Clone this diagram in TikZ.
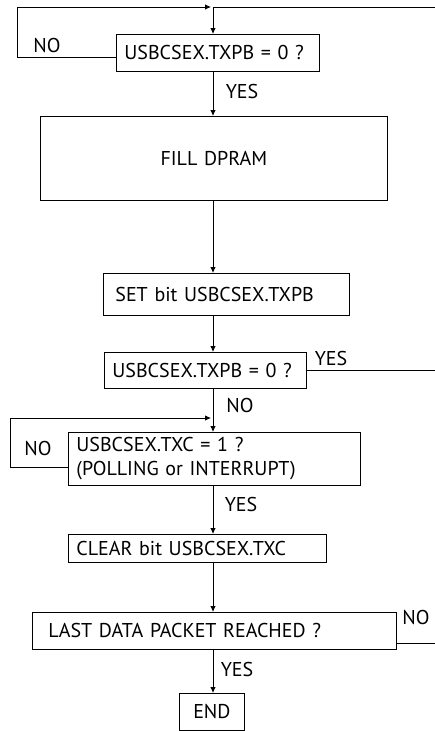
\documentclass[tikz,border=0pt]{standalone}
\usepackage{fontspec}
\setmainfont{PT Sans}
\usetikzlibrary{arrows.meta,positioning}

\begin{document}
\begin{tikzpicture}[
  x=1pt, y=-1pt,
  font=\fontsize{20}{24}\selectfont,
  box/.style={draw, line width=0.8pt, anchor=north west, inner xsep=8pt, inner ysep=0pt, align=left},
  arrow/.style={-{Latex[length=6pt,width=5.5pt]}, line width=0.8pt},
  line/.style={line width=0.8pt},
  lbl/.style={inner sep=0pt}
]
\useasboundingbox (0,0) rectangle (435,731);
\coordinate (axis) at (213,0);
\coordinate (top) at (213,7);
\coordinate (topleft) at (17,7);
\coordinate (topright) at (435,7);
\coordinate (edge) at (435,0);
\coordinate (join) at (213,418);
\coordinate (loopleft) at (10,418);

\node[box, minimum width=203pt, minimum height=37pt, text width=187pt] (ask1) at (116,34) {USBCSEX.TXPB = 0 ?};
\node[box, minimum width=347pt, minimum height=84pt, text width=331pt, align=center] (fill) at (40,116) {FILL DPRAM\hspace*{18pt}};
\node[box, minimum width=238pt, minimum height=42pt, text width=222pt, inner xsep=12pt] (set) at (103,273) {SET bit USBCSEX.TXPB};
\node[box, minimum width=202pt, minimum height=36pt, text width=186pt] (ask2) at (104,352) {USBCSEX.TXPB = 0 ?};
\node[box, minimum width=292pt, minimum height=53pt, text width=276pt] (ask3) at (68,432) {USBCSEX.TXC = 1 ?\\(POLLING or INTERRUPT)};
\node[box, minimum width=258pt, minimum height=28pt, text width=242pt] (clear) at (68,534) {CLEAR bit USBCSEX.TXC};
\node[box, minimum width=364pt, minimum height=37pt, text width=332pt, inner xsep=16pt] (last) at (32,612) {LAST DATA PACKET REACHED ?};
\node[box, minimum width=65pt, minimum height=37pt, text width=49pt, align=center] (end) at (179,693) {END};

% top loop
\draw[line] (topright) -- (top);
\draw[arrow] ([yshift=-4pt]ask1.west) -| (topleft) -- ([xshift=-2pt]top);
\draw[arrow] (top) -- (ask1.north -| axis);

\draw[arrow] (ask1.south -| axis) -- (fill.north -| axis);
\draw[arrow] (fill.south -| axis) -- (set.north -| axis);
\draw[arrow] (set.south -| axis) -- (ask2.north -| axis);
\draw[line] (ask2.east) -- (ask2.east -| edge);
\draw[arrow] (ask2.south -| axis) -- (ask3.north -| axis);

% polling loop
\draw[arrow] ([yshift=-8pt]ask3.west) -| (loopleft) -- ([xshift=-2pt]join);

\draw[arrow] (ask3.south -| axis) -- (clear.north -| axis);
\draw[arrow] (clear.south -| axis) -- (last.north -| axis);
\draw[line] ([yshift=-12pt]last.east) -- ([yshift=-12pt]last.east -| edge);
\draw[arrow] (last.south -| axis) -- (end.north -| axis);

\node[lbl] (no1) at (47,45) {NO};
\node[lbl] (yes1) at (242,91) {YES};
\node[lbl] (yes2) at (331,358) {YES};
\node[lbl] (no2) at (240,405) {NO};
\node[lbl] (no3) at (38,448) {NO};
\node[lbl] (yes3) at (241,504) {YES};
\node[lbl] (no4) at (416,617) {NO};
\node[lbl] (yes4) at (237,669) {YES};
\end{tikzpicture}
\end{document}
